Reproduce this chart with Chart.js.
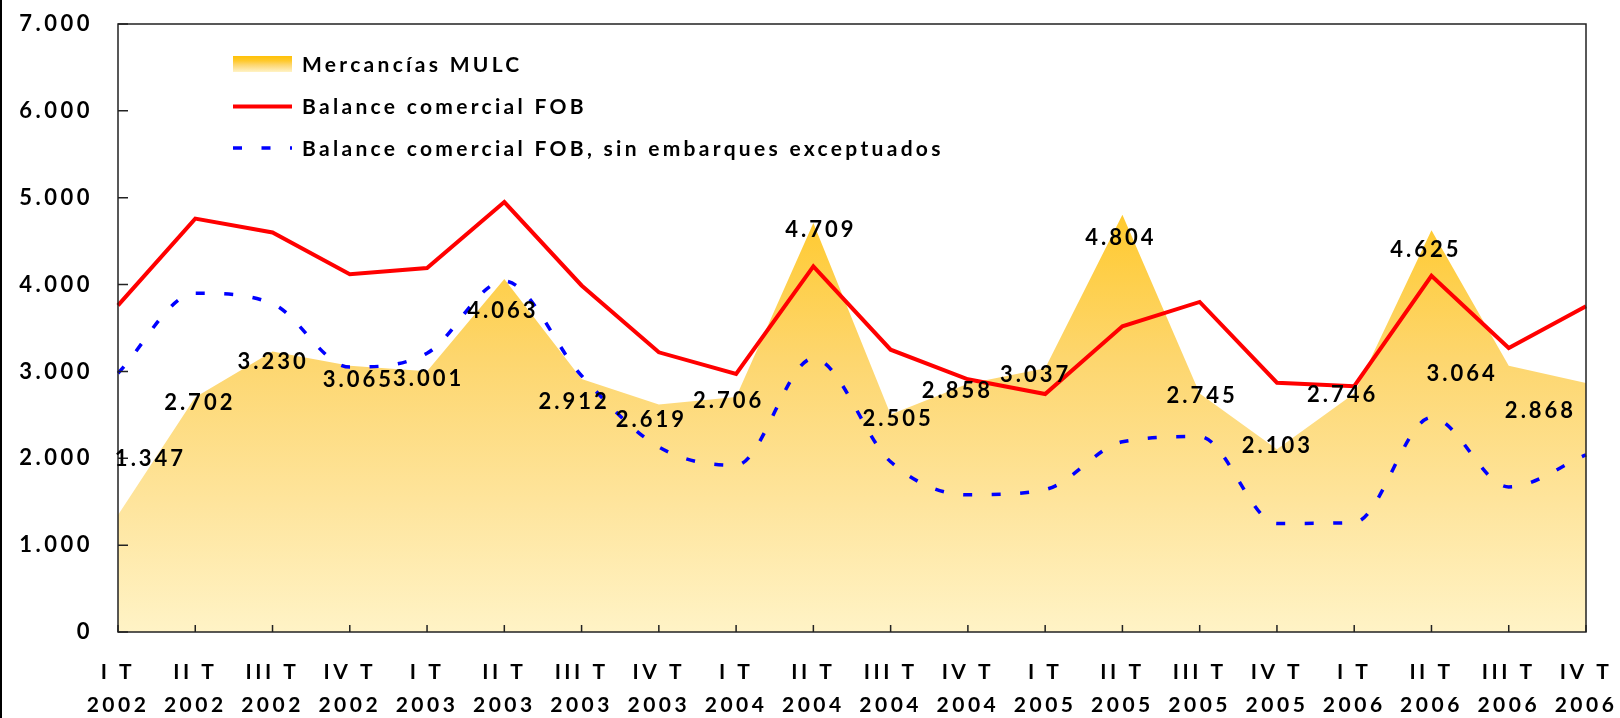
<!DOCTYPE html>
<html>
<head>
<meta charset="utf-8">
<script src="https://cdn.jsdelivr.net/npm/chart.js@4"></script>
<style>
  html, body { margin: 0; padding: 0; background: #fff; }
  #marco { width: 1620px; height: 718px; }
</style>
</head>
<body>
<div id="marco"><canvas id="grafico" width="1620" height="718"></canvas></div>
<script>
// Datos trimestrales (millones de US$)
const trimestres = ['I T', 'II T', 'III T', 'IV T', 'I T', 'II T', 'III T', 'IV T', 'I T', 'II T',
                    'III T', 'IV T', 'I T', 'II T', 'III T', 'IV T', 'I T', 'II T', 'III T', 'IV T'];
const anios = ['2002', '2002', '2002', '2002', '2003', '2003', '2003', '2003', '2004', '2004',
               '2004', '2004', '2005', '2005', '2005', '2005', '2006', '2006', '2006', '2006'];

const mercanciasMULC = [1347, 2702, 3230, 3065, 3001, 4063, 2912, 2619, 2706, 4709,
                        2505, 2858, 3037, 4804, 2745, 2103, 2746, 4625, 3064, 2868];
const balanceFOB = [3760, 4760, 4600, 4120, 4190, 4950, 3990, 3220, 2970, 4210,
                    3250, 2910, 2740, 3520, 3800, 2870, 2830, 4100, 3270, 3750];
const balanceSinExc = [2980, 3900, 3780, 3050, 3210, 4040, 2950, 2130, 1920, 3150,
                       1960, 1580, 1640, 2190, 2250, 1250, 1260, 2470, 1670, 2040];

const yMin = 0, yMax = 7000, yPaso = 1000;

// desplazamiento de cada etiqueta respecto a su punto (px)
const desplazEtiquetas = [[31, -57], [3, 5], [-1, 9], [7, 13], [0, 7], [-3, 31], [-9, 22], [-9, 14], [-9, 3], [6, 6],
                          [6, 3], [-12, 6], [-11, 6], [-3, 22], [1, 1], [-1, -4], [-13, 0], [-7, 19], [-48, 7], [-47, 27]];

const fuente = 'Lato';
const conPuntos = v => String(v).replace(/\B(?=(\d{3})+(?!\d))/g, '.');

function degradado(c, top, bottom) {
  const g = c.createLinearGradient(0, top, 0, bottom);
  g.addColorStop(0, '#FFC107');
  g.addColorStop(0.3, '#FFC92B');
  g.addColorStop(0.55, '#FDD66E');
  g.addColorStop(0.78, '#FEE49B');
  g.addColorStop(1, '#FFF3C6');
  return g;
}

// espaciado de letras (el original tiene letra ancha)
const espaciado = {
  id: 'espaciado',
  beforeUpdate(chart) { chart.ctx.letterSpacing = '3.5px'; },
  beforeDraw(chart) { chart.ctx.letterSpacing = '3.5px'; }
};

// marco, marcas de eje y borde izquierdo
const marco = {
  id: 'marco',
  afterDatasetsDraw(chart) {
    const { ctx, chartArea: a, scales } = chart;
    ctx.save();
    ctx.strokeStyle = '#222';
    ctx.lineWidth = 1.5;
    ctx.strokeRect(a.left, a.top, a.right - a.left, a.bottom - a.top);
    ctx.beginPath();
    scales.y.ticks.forEach(t => {
      const y = scales.y.getPixelForValue(t.value);
      ctx.moveTo(a.left, y); ctx.lineTo(a.left + 10, y);
    });
    trimestres.forEach((_, i) => {
      const x = scales.x.getPixelForValue(i);
      ctx.moveTo(x, a.bottom); ctx.lineTo(x, a.bottom - 7);
    });
    ctx.stroke();
    ctx.fillStyle = '#000';
    ctx.fillRect(0, 0, 2, chart.height);
    ctx.restore();
  }
};

// etiquetas de valores de Mercancías MULC
const etiquetas = {
  id: 'etiquetas',
  afterDatasetsDraw(chart) {
    const { ctx } = chart;
    const meta = chart.getDatasetMeta(0);
    ctx.save();
    ctx.letterSpacing = '3px';
    ctx.font = 'bold 22px ' + fuente;
    ctx.fillStyle = '#000';
    ctx.textAlign = 'center';
    ctx.textBaseline = 'middle';
    meta.data.forEach((p, i) => {
      const [dx, dy] = desplazEtiquetas[i];
      ctx.fillText(conPuntos(mercanciasMULC[i]), p.x + dx + 1.5, p.y + dy + 1);
    });
    ctx.restore();
  }
};

// leyenda dentro del área del gráfico
const leyenda = {
  id: 'leyenda',
  afterDraw(chart) {
    const { ctx } = chart;
    const x0 = 233, x1 = 292, xt = 302;
    const filas = [64, 106.5, 148];
    ctx.save();
    ctx.letterSpacing = '3.3px';
    ctx.font = 'bold 21px ' + fuente;
    ctx.textBaseline = 'middle';
    chart.data.datasets.forEach((ds, i) => {
      const y = filas[i];
      if (i === 0) {
        ctx.fillStyle = degradado(ctx, y - 8, y + 8);
        ctx.fillRect(x0, y - 8, x1 - x0, 16);
      } else {
        ctx.beginPath();
        ctx.strokeStyle = ds.borderColor;
        ctx.lineWidth = ds.borderWidth;
        ctx.setLineDash(ds.borderDash || []);
        ctx.moveTo(x0, y); ctx.lineTo(x1, y);
        ctx.stroke();
        ctx.setLineDash([]);
      }
      ctx.fillStyle = '#000';
      ctx.fillText(ds.label, xt, y + 1);
    });
    ctx.restore();
  }
};

new Chart(document.getElementById('grafico'), {
  type: 'line',
  data: {
    labels: trimestres.map((t, i) => [t, anios[i]]),
    datasets: [
      {
        label: 'Mercancías MULC',
        data: mercanciasMULC,
        fill: 'origin',
        backgroundColor: c => {
          const a = c.chart.chartArea;
          if (!a) return '#FED873';
          return degradado(c.chart.ctx, a.top, a.bottom);
        },
        borderWidth: 0,
        pointRadius: 0,
        tension: 0,
        order: 3
      },
      {
        label: 'Balance comercial FOB',
        data: balanceFOB,
        borderColor: '#FF0000',
        borderWidth: 4,
        fill: false,
        pointRadius: 0,
        tension: 0,
        order: 2
      },
      {
        label: 'Balance comercial FOB, sin embarques exceptuados',
        data: balanceSinExc,
        borderColor: '#0000FF',
        borderWidth: 3.5,
        borderDash: [9, 19.5],
        fill: false,
        pointRadius: 0,
        cubicInterpolationMode: 'monotone',
        order: 1
      }
    ]
  },
  options: {
    responsive: false,
    devicePixelRatio: 1,
    animation: false,
    layout: { padding: { top: 24, right: 34, left: 0, bottom: 0 } },
    plugins: { legend: { display: false }, tooltip: { enabled: false } },
    scales: {
      x: {
        offset: false,
        grid: { display: true, drawOnChartArea: false, drawTicks: true, tickLength: 24, tickColor: 'rgba(0,0,0,0)' },
        border: { display: false },
        ticks: {
          color: '#000',
          font: { family: fuente, size: 21, weight: 'bold', lineHeight: 33 / 21 },
          padding: 0,
          maxRotation: 0,
          autoSkip: false
        },
        afterFit(s) { s.height = 86; }
      },
      y: {
        min: yMin,
        max: yMax,
        grid: { display: true, drawOnChartArea: false, drawTicks: true, tickLength: 25, tickColor: 'rgba(0,0,0,0)' },
        border: { display: false },
        ticks: {
          stepSize: yPaso,
          color: '#000',
          font: { family: fuente, size: 22, weight: 'bold' },
          padding: 0,
          callback: v => conPuntos(v)
        },
        afterFit(s) { s.width = 118; }
      }
    }
  },
  plugins: [espaciado, marco, etiquetas, leyenda]
});
</script>
</body>
</html>
